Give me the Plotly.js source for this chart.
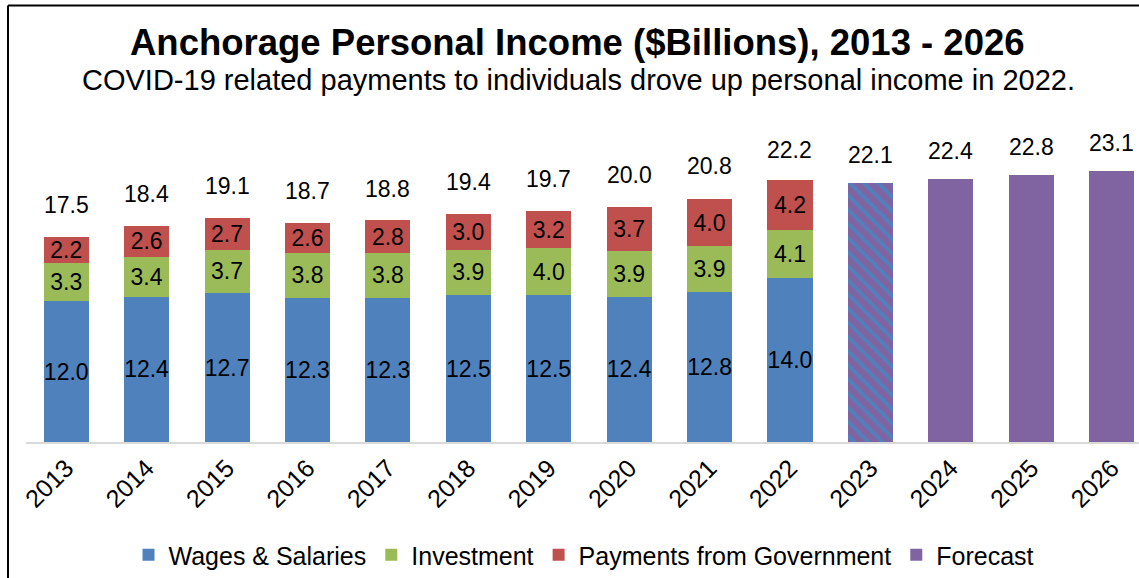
<!DOCTYPE html>
<html>
<head>
<meta charset="utf-8">
<script src="https://cdn.plot.ly/plotly-3.0.1.min.js"></script>
<style>
  html, body { margin: 0; padding: 0; background: #fff; }
  #chart { width: 1139px; height: 578px; }
</style>
</head>
<body>
<div id="chart"></div>
<script>
const years = ['2013','2014','2015','2016','2017','2018','2019','2020','2021','2022','2023','2024','2025','2026'];
const histYears = years.slice(0, 10);
const wages = [12.0, 12.4, 12.7, 12.3, 12.3, 12.5, 12.5, 12.4, 12.8, 14.0];
const investment = [3.3, 3.4, 3.7, 3.8, 3.8, 3.9, 4.0, 3.9, 3.9, 4.1];
const government = [2.2, 2.6, 2.7, 2.6, 2.8, 3.0, 3.2, 3.7, 4.0, 4.2];
const histTotals = [17.5, 18.4, 19.1, 18.7, 18.8, 19.4, 19.7, 20.0, 20.8, 22.2];
const hatchedYears = ['2023'];
const hatchedValues = [22.1];
const forecastYears = ['2024', '2025', '2026'];
const forecastValues = [22.4, 22.8, 23.1];

const FONT = 'Liberation Sans, Arial, sans-serif';
const BLUE = '#4F81BD', GREEN = '#9BBB59', RED = '#C0504D', PURPLE = '#8064A2';

function fmt(v) { return v.toFixed(1); }

function segTrace(name, x, y, color, showlegend) {
  return {
    type: 'bar', name: name, x: x, y: y,
    marker: { color: color },
    text: y.map(fmt), textposition: 'inside', insidetextanchor: 'middle',
    textangle: 0, constraintext: 'none',
    textfont: { family: FONT, size: 23, color: '#000' },
    hoverinfo: 'x+y+name', showlegend: showlegend
  };
}

const traces = [
  segTrace('Wages & Salaries', histYears, wages, BLUE, true),
  segTrace('Investment', histYears, investment, GREEN, true),
  segTrace('Payments from Government', histYears, government, RED, true),
  {
    type: 'bar', name: 'Forecast (hatched)', x: hatchedYears, y: hatchedValues,
    marker: { color: PURPLE, pattern: { shape: '\\', fgcolor: BLUE, bgcolor: PURPLE, size: 10, solidity: 0.35 } },
    showlegend: false
  },
  {
    type: 'bar', name: 'Forecast', x: forecastYears, y: forecastValues,
    marker: { color: PURPLE }, showlegend: true
  }
];

const labelYears = histYears.concat(hatchedYears, forecastYears);
const labelValues = histTotals.concat(hatchedValues, forecastValues);
const annotations = labelYears.map((yr, i) => ({
  x: years.indexOf(yr), y: labelValues[i], xref: 'x', yref: 'y',
  text: fmt(labelValues[i]), showarrow: false,
  xanchor: 'center', yanchor: 'bottom', yshift: i < histYears.length ? 17 : 13,
  font: { family: FONT, size: 23, color: '#000' }
}));

// plot area geometry: left 26px, right 1139px, top 137px, bottom 443px
const PL = 26, PR = 1139, PT = 137, PB = 443;
const pw = PR - PL, ph = PB - PT;
function px2x(p) { return (p - PL) / pw; }
function py2y(p) { return (PB - p) / ph; }

annotations.push({
  xref: 'paper', yref: 'paper', x: px2x(577), y: py2y(42),
  text: '<b>Anchorage Personal Income ($Billions), 2013 - 2026</b>',
  showarrow: false, xanchor: 'center', yanchor: 'middle',
  font: { family: FONT, size: 36.5, color: '#000' }
});
annotations.push({
  xref: 'paper', yref: 'paper', x: px2x(578), y: py2y(80),
  text: 'COVID-19 related payments to individuals drove up personal income in 2022.',
  showarrow: false, xanchor: 'center', yanchor: 'middle',
  font: { family: FONT, size: 29, color: '#000' }
});

const shapes = [
  { type: 'line', xref: 'paper', yref: 'paper', x0: px2x(8), x1: px2x(8), y0: py2y(5), y1: py2y(600), line: { color: '#000', width: 2 } },
  { type: 'line', xref: 'paper', yref: 'paper', x0: px2x(8), x1: px2x(1160), y0: py2y(5), y1: py2y(5), line: { color: '#000', width: 2 } }
];

const layout = {
  width: 1139, height: 578,
  margin: { l: PL, r: 1139 - PR, t: PT, b: 578 - PB, pad: 0 },
  paper_bgcolor: '#fff', plot_bgcolor: '#fff',
  barmode: 'stack', bargap: 0.44,
  font: { family: FONT, size: 22, color: '#000' },
  xaxis: {
    type: 'category', categoryorder: 'array', categoryarray: years,
    range: [-0.5, 13.34], tickangle: -45,
    tickfont: { family: FONT, size: 25, color: '#000' },
    showline: true, linecolor: '#d9d9d9', linewidth: 1.5,
    ticks: '', showgrid: false, zeroline: false, fixedrange: true
  },
  yaxis: {
    range: [0, 26], visible: false, showgrid: false, zeroline: false, fixedrange: true
  },
  legend: {
    orientation: 'h', x: px2x(584), xanchor: 'center', y: py2y(557), yanchor: 'middle',
    font: { family: FONT, size: 25, color: '#000' },
    traceorder: 'normal', itemwidth: 30, tracegroupgap: 0, bgcolor: 'rgba(0,0,0,0)'
  },
  annotations: annotations,
  shapes: shapes,
  showlegend: true
};

Plotly.newPlot('chart', traces, layout, { displayModeBar: false, staticPlot: true });
</script>
</body>
</html>
